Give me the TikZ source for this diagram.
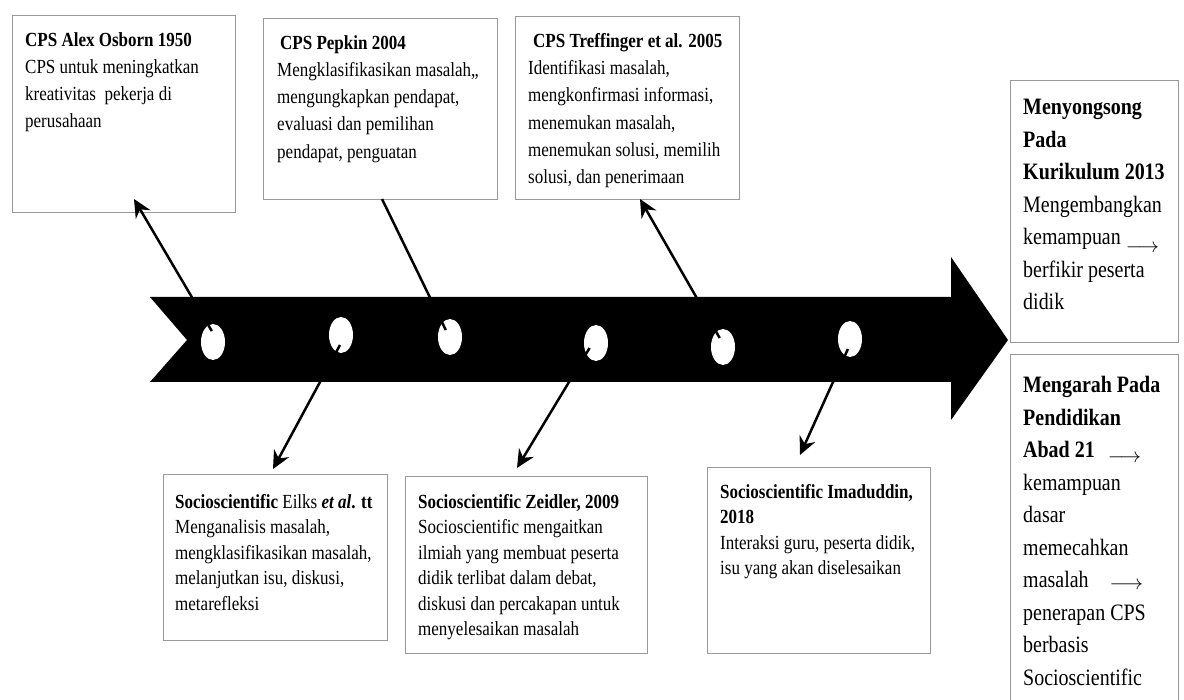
\documentclass[tikz,border=0pt]{standalone}
\usepackage{fontspec}
\setmainfont[FakeStretch=0.85]{Liberation Serif}
\usetikzlibrary{arrows.meta}
\tikzset{
  frame/.style={draw=gray!80, line width=0.8pt, fill=white, anchor=north west, inner sep=0pt},
  txtTop/.style={anchor=north west, inner sep=0pt, align=left, font=\fontsize{20}{27.3}\selectfont},
  txtBot/.style={anchor=north west, inner sep=0pt, align=left, font=\fontsize{20}{25.5}\selectfont},
  txtSide/.style={anchor=north west, inner sep=0pt, align=left, font=\fontsize{23.5}{32.5}\selectfont},
  hole/.style={fill=white},
  link/.style={line width=2.5pt, -{Stealth[length=18pt,width=17pt,inset=6pt]}},
  plainlink/.style={line width=2.5pt}
}
\newcommand{\sidearrow}[1]{\raisebox{#1}{\fontsize{20}{20}\selectfont$\longrightarrow$}}
\begin{document}
\begin{tikzpicture}[x=1pt,y=-1pt]
    \clip (0,0) rectangle (1184,700);

    % Main arrow
    \fill (150,297) -- (951,297) -- (951,257) -- (1008,340) -- (951,420)
        -- (951,382) -- (150,382) -- (187,340) -- cycle;

    % Holes in the arrow
    \fill[hole] (213,342) ellipse [x radius=12, y radius=18];
    \fill[hole] (341,335) ellipse [x radius=12, y radius=18];
    \fill[hole] (450,337) ellipse [x radius=12, y radius=18];
    \fill[hole] (596,343) ellipse [x radius=12, y radius=18];
    \fill[hole] (723,347) ellipse [x radius=12, y radius=18];
    \fill[hole] (850,339) ellipse [x radius=12, y radius=18];

    % Upper boxes
    \node[frame, minimum width=223pt, minimum height=197pt] (osborn) at (12,15) {};
    \node[txtTop] (osbornText) at (25,32)
        {\textbf{CPS Alex Osborn 1950}\\CPS untuk meningkatkan\\kreativitas\ \ pekerja di\\perusahaan};
    \node[frame, minimum width=234pt, minimum height=181pt] (pepkin) at (263,18) {};
    \node[txtTop] (pepkinText) at (277,35)
        {\hspace{3pt}\textbf{CPS Pepkin 2004}\\Mengklasifikasikan masalah,,\\mengungkapkan pendapat,\\evaluasi dan pemilihan\\pendapat, penguatan};
    \node[frame, minimum width=224pt, minimum height=183pt] (treff) at (515,16) {};
    \node[txtTop] (treffText) at (528,33)
        {\hspace{5pt}\textbf{CPS Treffinger et al. 2005}\\Identifikasi masalah,\\mengkonfirmasi informasi,\\menemukan masalah,\\menemukan solusi, memilih\\solusi, dan penerimaan};

    % Lower boxes
    \node[frame, minimum width=224pt, minimum height=166pt] (eilks) at (163,474) {};
    \node[txtBot] (eilksText) at (175,494)
        {\textbf{Socioscientific} Eilks \textbf{\textit{et al}.} \textbf{tt}\\Menganalisis masalah,\\mengklasifikasikan masalah,\\melanjutkan isu, diskusi,\\metarefleksi};
    \node[frame, minimum width=242pt, minimum height=177pt] (zeidler) at (405,476) {};
    \node[txtBot] (zeidlerText) at (418,494)
        {\textbf{Socioscientific Zeidler, 2009}\\Socioscientific mengaitkan\\ilmiah yang membuat peserta\\didik terlibat dalam debat,\\diskusi dan percakapan untuk\\menyelesaikan masalah};
    \node[frame, minimum width=223pt, minimum height=186pt] (imad) at (707,467) {};
    \node[txtBot] (imadText) at (720,484)
        {\textbf{Socioscientific Imaduddin,}\\\textbf{2018}\\Interaksi guru, peserta didik,\\isu yang akan diselesaikan};

    % Side boxes
    \node[frame, minimum width=168pt, minimum height=262pt] (kurikulum) at (1010,80) {};
    \node[txtSide] (kurikulumText) at (1023,99)
        {\textbf{Menyongsong}\\\textbf{Pada}\\\textbf{Kurikulum 2013}\\Mengembangkan\\kemampuan \sidearrow{-8pt}\\berfikir peserta\\didik};
    \node[frame, minimum width=168pt, minimum height=370pt] (abad) at (1010,354) {};
    \node[txtSide] (abadText) at (1023,376)
        {\textbf{Mengarah Pada}\\\textbf{Pendidikan}\\\textbf{Abad 21}\hspace{8pt} \sidearrow{-5pt}\\kemampuan\\dasar\\memecahkan\\masalah\hspace{16pt} \sidearrow{-2pt}\\penerapan CPS\\berbasis\\Socioscientific};

    % Connectors
    \coordinate (tick1) at (211.8,331);
    \coordinate (tick2) at (340,345);
    \coordinate (tick3) at (445.8,330);
    \coordinate (tick4) at (589.6,348);
    \coordinate (tick5) at (719.7,338);
    \coordinate (tick6) at (847.9,349);
    \coordinate (osbornTip) at (134,199);
    \coordinate (pepkinEnd) at (382,199);
    \coordinate (treffTip) at (640,199);
    \coordinate (eilksTip) at (273,469);
    \coordinate (zeidlerTip) at (517,468);
    \coordinate (imadTip) at (800,455);
    \draw[link] (tick1) -- (osbornTip);
    \draw[plainlink] (tick3) -- (pepkinEnd);
    \draw[link] (tick5) -- (treffTip);
    \draw[link] (tick2) -- (eilksTip);
    \draw[link] (tick4) -- (zeidlerTip);
    \draw[link] (tick6) -- (imadTip);
\end{tikzpicture}
\end{document}
